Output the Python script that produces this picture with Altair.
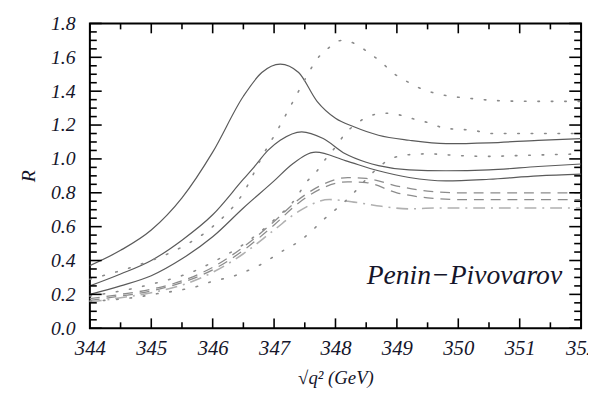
import altair as alt
import pandas as pd

# ---- data ----
s1_x = [344.0, 344.5, 345.0, 345.5, 346.0, 346.5, 346.8, 347.1, 347.4, 347.7, 348.0, 348.3, 348.7, 349.2, 349.8, 350.5, 351.3, 352.0]
s1_y = [0.37, 0.46, 0.58, 0.77, 1.04, 1.37, 1.51, 1.56, 1.51, 1.34, 1.24, 1.19, 1.14, 1.11, 1.09, 1.095, 1.11, 1.12]

s2_x = [344.0, 344.5, 345.0, 345.5, 346.0, 346.5, 346.67, 346.9, 347.1, 347.45, 347.8, 348.16, 348.5, 348.7, 349.2, 349.8, 350.5, 351.3, 352.0]
s2_y = [0.25, 0.32, 0.40, 0.52, 0.67, 0.88, 0.95, 1.05, 1.11, 1.16, 1.12, 1.03, 0.98, 0.96, 0.935, 0.93, 0.935, 0.955, 0.97]

s3_x = [344.0, 344.5, 345.0, 345.5, 346.0, 346.5, 347.0, 347.3, 347.68, 348.16, 348.7, 349.2, 349.8, 350.5, 351.3, 352.0]
s3_y = [0.20, 0.25, 0.31, 0.41, 0.54, 0.71, 0.87, 0.97, 1.04, 0.99, 0.93, 0.89, 0.87, 0.88, 0.90, 0.91]

d1_x = [344.0, 344.5, 345.0, 345.5, 346.0, 346.5, 346.83, 347.07, 347.31, 347.55, 347.68, 347.87, 348.1, 348.32, 348.53, 348.75, 348.93, 349.15, 349.36, 349.6, 349.87, 350.12, 350.6, 351.16, 352.0]
d1_y = [0.29, 0.34, 0.40, 0.48, 0.60, 0.80, 1.03, 1.18, 1.34, 1.50, 1.58, 1.65, 1.70, 1.68, 1.63, 1.57, 1.51, 1.46, 1.42, 1.39, 1.37, 1.36, 1.345, 1.34, 1.34]

d2_x = [344.0, 344.5, 345.0, 345.78, 346.0, 346.6, 347.0, 347.36, 347.52, 347.68, 347.84, 348.0, 348.16, 348.35, 348.53, 348.8, 349.04, 349.28, 349.55, 349.79, 350.03, 350.3, 350.53, 351.0, 352.0]
d2_y = [0.19, 0.22, 0.26, 0.35, 0.39, 0.52, 0.64, 0.77, 0.86, 0.92, 1.00, 1.07, 1.15, 1.21, 1.25, 1.27, 1.26, 1.235, 1.21, 1.18, 1.175, 1.165, 1.15, 1.15, 1.15]

d3_x = [344.0, 344.26, 344.79, 345.03, 345.54, 345.78, 346.02, 346.27, 346.5, 346.75, 346.98, 347.2, 347.4, 347.6, 347.8, 348.0, 348.3, 348.5, 348.7, 348.9, 349.2, 349.5, 350.0, 350.5, 351.0, 351.5, 352.0]
d3_y = [0.16, 0.165, 0.185, 0.20, 0.23, 0.25, 0.28, 0.30, 0.33, 0.37, 0.42, 0.47, 0.51, 0.57, 0.64, 0.70, 0.80, 0.88, 0.95, 1.00, 1.025, 1.03, 1.02, 1.015, 1.02, 1.025, 1.03]

e1_x = [344.0, 344.5, 345.0, 345.5, 346.0, 346.5, 347.0, 347.4, 347.8, 348.2, 348.5, 349.0, 349.5, 350.0, 351.0, 352.0]
e1_y = [0.175, 0.20, 0.23, 0.28, 0.36, 0.48, 0.63, 0.76, 0.85, 0.89, 0.885, 0.84, 0.81, 0.80, 0.80, 0.80]

e2_x = [344.0, 344.5, 345.0, 345.5, 346.0, 346.5, 347.0, 347.4, 347.8, 348.2, 348.5, 349.0, 349.5, 350.0, 351.0, 352.0]
e2_y = [0.165, 0.19, 0.22, 0.27, 0.345, 0.46, 0.61, 0.74, 0.83, 0.865, 0.86, 0.80, 0.77, 0.76, 0.76, 0.76]

e3_x = [344.0, 344.5, 345.0, 345.5, 346.0, 346.5, 347.0, 347.4, 347.9, 348.3, 348.75, 349.2, 349.6, 350.0, 351.0, 352.0]
e3_y = [0.155, 0.18, 0.21, 0.255, 0.33, 0.44, 0.58, 0.69, 0.76, 0.745, 0.72, 0.705, 0.71, 0.71, 0.71, 0.71]

x_major = [344, 345, 346, 347, 348, 349, 350, 351, 352]
x_minor = [344.5, 345.5, 346.5, 347.5, 348.5, 349.5, 350.5, 351.5]
y_major = [0.0, 0.2, 0.4, 0.6, 0.8, 1.0, 1.2, 1.4, 1.6, 1.8]
y_minor = [0.05, 0.1, 0.15, 0.25, 0.3, 0.35, 0.45, 0.5, 0.55, 0.65, 0.7, 0.75,
           0.85, 0.9, 0.95, 1.05, 1.1, 1.15, 1.25, 1.3, 1.35, 1.45, 1.5, 1.55,
           1.65, 1.7, 1.75]

label_text = ["Penin\u2212Pivovarov"]
label_x = [350.1]
label_y = [0.31]

W, H = 498, 309
FONT = "Liberation Serif"
TXT = "#15152a"


def frame(xs, ys, name):
    return pd.DataFrame({"x": xs, "y": ys, "s": name})


solid = pd.concat([frame(s1_x, s1_y, "s1"), frame(s2_x, s2_y, "s2"), frame(s3_x, s3_y, "s3")])
dotted = pd.concat([frame(d1_x, d1_y, "d1"), frame(d2_x, d2_y, "d2"), frame(d3_x, d3_y, "d3")])
dashed = pd.concat([frame(e1_x, e1_y, "e1"), frame(e2_x, e2_y, "e2")])
dashdot = frame(e3_x, e3_y, "e3")

xs = alt.Scale(domain=[344, 352], nice=False, zero=False)
ys = alt.Scale(domain=[0, 1.8], nice=False, zero=False)

XAX = alt.Axis(
    values=x_major, format="d", ticks=False, domain=False, grid=False,
    labelFont=FONT, labelFontStyle="italic", labelFontSize=21, labelColor=TXT,
    labelPadding=10, labelFlush=False, labelOverlap=False,
    title="\u221Aq\u00B2 (GeV)", titleFont=FONT, titleFontStyle="italic",
    titleFontWeight="normal", titleFontSize=19, titleColor=TXT, titlePadding=10)
YAX = alt.Axis(
    values=y_major, format=".1f", ticks=False, domain=False, grid=False,
    labelFont=FONT, labelFontStyle="italic", labelFontSize=20, labelColor=TXT,
    labelPadding=15, labelOverlap=False, labelFlush=False,
    title="R", titleFont=FONT, titleFontStyle="italic", titleFontWeight="normal",
    titleFontSize=20, titleColor=TXT, titlePadding=12)


def XE(field):
    return alt.X(field, scale=xs, axis=XAX)


def YE(field):
    return alt.Y(field, scale=ys, axis=YAX)


line_solid = alt.Chart(solid).mark_line(
    interpolate="monotone", color="#5a5a5a", strokeWidth=1.2
).encode(x=XE("x:Q"), y=YE("y:Q"), detail="s:N")

line_dotted = alt.Chart(dotted).mark_line(
    interpolate="monotone", color="#8a8a8a", strokeWidth=1.6, strokeDash=[1.6, 12],
    strokeCap="round"
).encode(x=XE("x:Q"), y=YE("y:Q"), detail="s:N")

line_dashed = alt.Chart(dashed).mark_line(
    interpolate="monotone", color="#8c8c8c", strokeWidth=1.3, strokeDash=[10, 7]
).encode(x=XE("x:Q"), y=YE("y:Q"), detail="s:N")

line_dashdot = alt.Chart(dashdot).mark_line(
    interpolate="monotone", color="#b0b0b0", strokeWidth=1.6, strokeDash=[12, 6, 2, 6]
).encode(x=XE("x:Q"), y=YE("y:Q"))

txt = alt.Chart(pd.DataFrame({"x": label_x, "y": label_y, "t": label_text})).mark_text(
    font=FONT, fontStyle="italic", fontSize=28, color=TXT, align="center", baseline="middle"
).encode(x=XE("x:Q"), y=YE("y:Q"), text="t:N")


def xticks(vals, length):
    d = pd.DataFrame({"x": vals})
    b = alt.Chart(d).mark_rule(color="black", strokeWidth=1.6).encode(
        x=XE("x:Q"), y=alt.value(H), y2=alt.value(H - length))
    t = alt.Chart(d).mark_rule(color="black", strokeWidth=1.6).encode(
        x=XE("x:Q"), y=alt.value(0), y2=alt.value(length))
    return [b, t]


def yticks(vals, length):
    d = pd.DataFrame({"y": vals})
    l = alt.Chart(d).mark_rule(color="black", strokeWidth=1.6).encode(
        y=YE("y:Q"), x=alt.value(0), x2=alt.value(length))
    r = alt.Chart(d).mark_rule(color="black", strokeWidth=1.6).encode(
        y=YE("y:Q"), x=alt.value(W), x2=alt.value(W - length))
    return [l, r]


layers = [line_solid, line_dashdot, line_dashed, line_dotted, txt]
layers += xticks(x_major, 10) + xticks(x_minor, 6)
layers += yticks(y_major, 12) + yticks(y_minor, 7)

chart = alt.layer(*layers).properties(
    width=W, height=H,
    autosize=alt.AutoSizeParams(type="none"),
    padding={"left": 83, "top": 13, "right": 7, "bottom": 64},
    background="white",
).configure_view(stroke="black", strokeWidth=2)

chart.save("out.html", embed_options={"renderer": "svg", "actions": False})
